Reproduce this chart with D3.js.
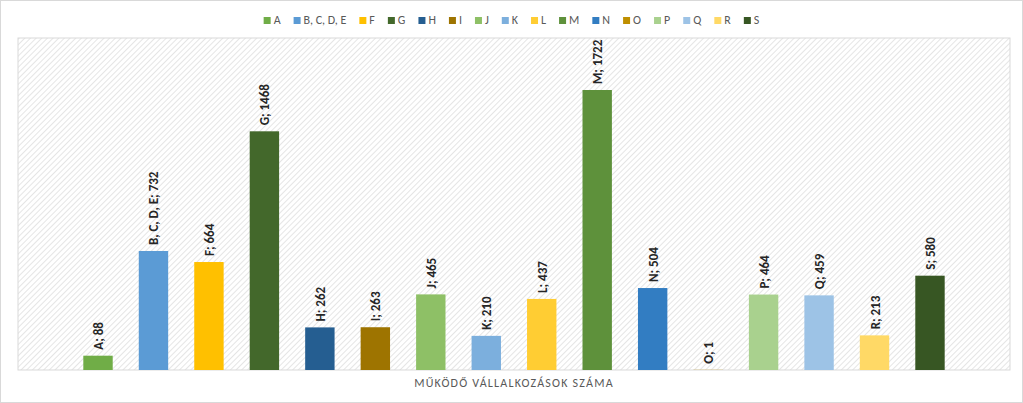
<!DOCTYPE html>
<html><head><meta charset="utf-8">
<script src="https://cdn.jsdelivr.net/npm/d3@7"></script>
<style>body{margin:0;background:#fff;font-family:Calibri,Carlito,"Liberation Sans",sans-serif}</style>
</head><body><div id="chart"></div>
<script>
// chart data
const categories = ['A', 'B, C, D, E', 'F', 'G', 'H', 'I', 'J', 'K', 'L', 'M', 'N', 'O', 'P', 'Q', 'R', 'S'];
const values = [88, 732, 664, 1468, 262, 263, 465, 210, 437, 1722, 504, 1, 464, 459, 213, 580];
const colors = ['#70AD47', '#5B9BD5', '#FFC000', '#43682B', '#255E91', '#9E7400', '#8EC066', '#7CAFDD',
  '#FFCD33', '#5E913B', '#327DC2', '#BF8F00', '#A9D18E', '#9DC3E6', '#FFD966', '#375623'];
const axisTitle = 'MŰKÖDŐ VÁLLALKOZÁSOK SZÁMA';

const W = 1023, H = 403;
const plot = { left: 18, right: 1010, top: 38, bottom: 370 };

const svg = d3.select('#chart').append('svg').attr('width', W).attr('height', H);

// hatch pattern for plot background
const pat = svg.append('defs').append('pattern')
  .attr('id', 'hatch').attr('width', 4).attr('height', 4)
  .attr('patternUnits', 'userSpaceOnUse').attr('patternTransform', 'rotate(45)');
pat.append('rect').attr('width', 4).attr('height', 4).attr('fill', '#fff');
pat.append('line').attr('x1', 0).attr('y1', 0).attr('x2', 0).attr('y2', 4)
  .attr('stroke', '#d4d4d4').attr('stroke-width', 1.2);

svg.append('rect').attr('x', 0.5).attr('y', 0.5).attr('width', W - 1).attr('height', H - 1)
  .attr('fill', '#fff').attr('stroke', '#d9d9d9');
svg.append('rect').attr('x', plot.left).attr('y', plot.top)
  .attr('width', plot.right - plot.left).attr('height', plot.bottom - plot.top)
  .attr('fill', 'url(#hatch)').attr('stroke', '#d9d9d9');

// bars are one cluster centred in the plot
const x = d3.scaleBand().domain(categories).range([70, 958]).paddingInner(0.47).paddingOuter(0.24);
const y = d3.scaleLinear().domain([0, 1722]).range([plot.bottom, 90]);

svg.selectAll('rect.bar').data(values).enter().append('rect')
  .attr('class', 'bar')
  .attr('x', (d, i) => x(categories[i]))
  .attr('y', d => y(d))
  .attr('width', x.bandwidth())
  .attr('height', d => plot.bottom - y(d))
  .attr('fill', (d, i) => colors[i]);

svg.selectAll('text.lbl').data(values).enter().append('text')
  .attr('class', 'lbl')
  .attr('transform', (d, i) => `translate(${x(categories[i]) + x.bandwidth() / 2 + 5},${y(d) - 6}) rotate(-90)`)
  .attr('font-size', 13).attr('font-weight', 'bold').attr('fill', '#262626')
  .text((d, i) => `${categories[i]}; ${d}`);

svg.append('text').attr('x', (plot.left + plot.right) / 2).attr('y', 387)
  .attr('text-anchor', 'middle').attr('font-size', 12).attr('letter-spacing', 1.2)
  .attr('fill', '#595959').text(axisTitle);

// legend
const legend = svg.append('g');
let lx = 0;
categories.forEach((c, i) => {
  const g = legend.append('g').attr('transform', `translate(${lx},0)`);
  g.append('rect').attr('x', 0).attr('y', -7).attr('width', 7).attr('height', 7).attr('fill', colors[i]);
  const t = g.append('text').attr('x', 10).attr('y', 0).attr('font-size', 12).attr('fill', '#595959').text(c);
  lx += 10 + t.node().getComputedTextLength() + 13;
});
legend.attr('transform', `translate(${(W - lx + 13) / 2},24)`);
</script></body></html>
